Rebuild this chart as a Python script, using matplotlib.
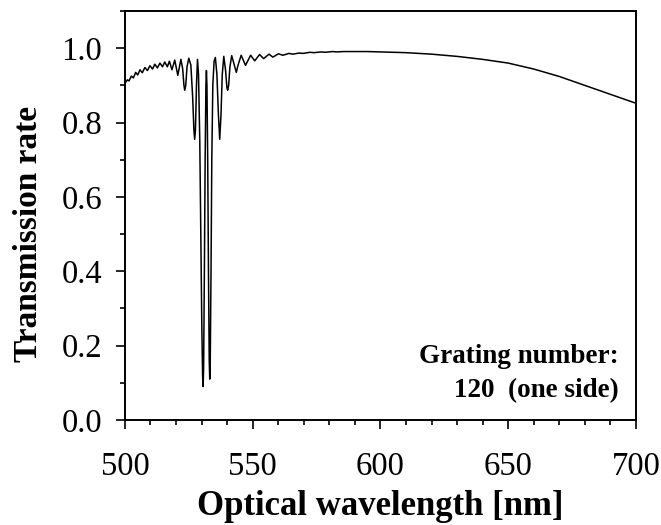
import matplotlib
matplotlib.use("Agg")
import matplotlib.pyplot as plt
from matplotlib.ticker import MultipleLocator

## Data (wavelength in nm, transmission)

wavelength = [
    500.0, 501.0, 501.6, 502.5, 503.3, 504.2, 505.0, 505.9, 506.8, 507.8,
    508.8, 509.8, 510.8, 511.7, 512.7, 513.7, 514.7, 515.6, 516.6, 517.4,
    518.4, 519.5, 520.7, 521.9, 522.6, 523.1, 523.4, 523.8, 524.3, 525.0,
    525.8, 526.5, 527.0, 527.3, 527.6, 528.0, 528.4,
    528.8, 529.3, 529.7, 530.1, 530.4, 530.6, 530.8, 531.1, 531.4, 531.7,
    531.9, 532.1, 532.4, 532.7, 533.0, 533.2, 533.4, 533.7, 534.0, 534.4,
    534.9, 535.4,
    536.0, 536.6, 537.1, 537.6, 538.1, 538.7,
    539.4, 539.9, 540.2, 540.6, 541.1, 541.8,
    543.0, 543.6, 544.3, 545.5,
    547.2, 549.2, 550.8, 552.7, 554.3, 556.4, 557.9, 560.1, 561.8, 564.2,
    565.7, 568.2, 569.8, 572.4, 574.0, 576.8, 578.4, 581.2, 582.8, 585.6,
    590.0, 595.0, 600.0, 610.0, 620.0, 630.0, 640.0, 650.0, 660.0, 670.0,
    680.0, 690.0, 700.0,
]
transmission = [
    0.906, 0.915, 0.912, 0.925, 0.920, 0.935, 0.928, 0.942, 0.934, 0.948,
    0.940, 0.953, 0.944, 0.957, 0.947, 0.960, 0.950, 0.963, 0.950, 0.965,
    0.942, 0.968, 0.927, 0.970, 0.945, 0.900, 0.887, 0.900, 0.950, 0.973,
    0.955, 0.870, 0.780, 0.755, 0.780, 0.900, 0.970,
    0.930, 0.750, 0.500, 0.250, 0.120, 0.090, 0.140, 0.400, 0.700, 0.900,
    0.940, 0.900, 0.700, 0.400, 0.160, 0.110, 0.160, 0.400, 0.700, 0.900,
    0.965, 0.975,
    0.930, 0.820, 0.755, 0.820, 0.930, 0.978,
    0.940, 0.895, 0.887, 0.900, 0.950, 0.980,
    0.950, 0.935, 0.955, 0.981,
    0.954, 0.981, 0.966, 0.983, 0.972, 0.984, 0.976, 0.985, 0.981, 0.986,
    0.984, 0.987, 0.986, 0.989, 0.988, 0.990, 0.989, 0.991, 0.990, 0.991,
    0.991, 0.991, 0.990, 0.988, 0.984, 0.978, 0.970, 0.960, 0.944, 0.924,
    0.900, 0.876, 0.852,
]

note_lines = ["Grating number:", "120  (one side)"]

## Plot

plt.rcParams['font.family'] = ['Liberation Serif', 'DejaVu Serif']

fig = plt.figure(figsize=(6.61, 5.25), dpi=100)
ax = fig.add_axes([0.189, 0.200, 0.773, 0.779])

ax.plot(wavelength, transmission, color="black", lw=1.1)

ax.set_xlim(500, 700)
ax.set_ylim(0.0, 1.1)
ax.xaxis.set_major_locator(MultipleLocator(50))
ax.xaxis.set_minor_locator(MultipleLocator(10))
ax.yaxis.set_major_locator(MultipleLocator(0.2))
ax.yaxis.set_minor_locator(MultipleLocator(0.1))
ax.yaxis.set_major_formatter(plt.FormatStrFormatter("%.1f"))

ax.tick_params(which="both", direction="out", width=1.2, labelsize=23.5)
ax.tick_params(which="major", length=6.5)
ax.tick_params(which="minor", length=3.5)
ax.tick_params(axis="y", which="major", pad=10)
ax.tick_params(axis="x", which="major", pad=16)
for sp in ax.spines.values():
    sp.set_linewidth(1.4)

ax.set_xlabel("Optical wavelength [nm]", fontsize=25, fontweight="bold", labelpad=6)
ax.set_ylabel("Transmission rate", fontsize=24, fontweight="bold")
ax.yaxis.set_label_coords(-0.158, 0.4545)

ax.text(0.967, 0.139, note_lines[0], transform=ax.transAxes, ha="right",
        va="baseline", fontsize=19.5, fontweight="bold")
ax.text(0.967, 0.056, note_lines[1], transform=ax.transAxes, ha="right",
        va="baseline", fontsize=19.5, fontweight="bold")

fig.savefig("out.png", dpi=100)
